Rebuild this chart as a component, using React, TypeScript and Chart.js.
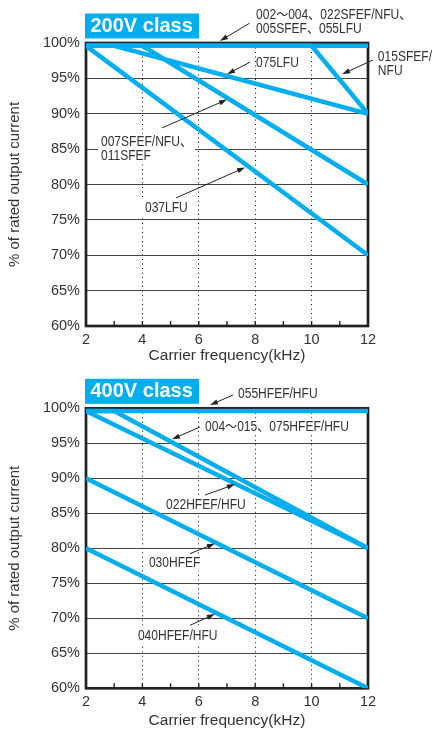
import React, { useEffect, useRef } from "react";
import { Chart, registerables } from "chart.js";

Chart.register(...registerables);

// ---------- axes ----------
const X_TICKS = [2, 4, 6, 8, 10, 12];
const Y_TICKS = [60, 65, 70, 75, 80, 85, 90, 95, 100];

// ---------- 200V class (kHz / % of rated output current) ----------
const khz200_002 = [2, 12];
const pct200_002 = [99.6, 99.6];
const khz200_015 = [2, 10, 12];
const pct200_015 = [99.6, 99.6, 90];
const khz200_075 = [2, 3, 12];
const pct200_075 = [99.6, 99.6, 90];
const khz200_007 = [2, 4, 12];
const pct200_007 = [99.6, 99.6, 80];
const khz200_037 = [2, 12];
const pct200_037 = [99.6, 70];

// ---------- 400V class ----------
const khz400_055 = [2, 12];
const pct400_055 = [99.6, 99.6];
const khz400_004 = [2, 3, 12];
const pct400_004 = [99.6, 99.6, 80];
const khz400_022 = [2, 12];
const pct400_022 = [99.6, 80];
const khz400_030 = [2, 12];
const pct400_030 = [90, 70];
const khz400_040 = [2, 12];
const pct400_040 = [80, 60];

const BLUE = "#00AEEF";
const FAMILY = '"Liberation Sans", Arial, Helvetica, sans-serif';
const NOTE_FONT = '14px "Liberation Sans", "Noto Sans CJK JP", sans-serif';

type Series = { kHz: number[]; pct: number[] };
type Note = {
  lines: string[];
  k: number;
  p: number;
  from: [number, number];
  to: [number, number];
  bg?: boolean;
};

const series200: Series[] = [
  { kHz: khz200_002, pct: pct200_002 },
  { kHz: khz200_015, pct: pct200_015 },
  { kHz: khz200_075, pct: pct200_075 },
  { kHz: khz200_007, pct: pct200_007 },
  { kHz: khz200_037, pct: pct200_037 },
];
const series400: Series[] = [
  { kHz: khz400_055, pct: pct400_055 },
  { kHz: khz400_004, pct: pct400_004 },
  { kHz: khz400_022, pct: pct400_022 },
  { kHz: khz400_030, pct: pct400_030 },
  { kHz: khz400_040, pct: pct400_040 },
];

const notes200: Note[] = [
  { lines: ["002～004、022SFEF/NFU、", "005SFEF、055LFU"], k: 8.03, p: 104.0, from: [7.8, 102.8], to: [6.75, 100.3] },
  { lines: ["075LFU"], k: 8.03, p: 97.1, from: [7.82, 97.3], to: [7.0, 95.6] },
  { lines: ["015SFEF/", "NFU"], k: 12.35, p: 98.06, from: [12.18, 97.6], to: [11.08, 95.6] },
  { lines: ["007SFEF/NFU、", "011SFEF"], k: 2.53, p: 86.05, from: [4.7, 88.0], to: [7.0, 92.0], bg: true },
  { lines: ["037LFU"], k: 4.09, p: 76.7, from: [5.19, 78.1], to: [7.64, 82.4], bg: true },
];
const notes400: Note[] = [
  { lines: ["055HFEF/HFU"], k: 7.39, p: 102.04, from: [7.21, 101.9], to: [6.4, 100.47] },
  { lines: ["004～015、075HFEF/HFU"], k: 6.22, p: 97.37, from: [6.04, 97.33], to: [5.05, 95.57], bg: true },
  { lines: ["022HFEF/HFU"], k: 4.84, p: 86.19, from: [6.22, 87.6], to: [7.28, 89.14], bg: true },
  { lines: ["030HFEF"], k: 4.23, p: 77.94, from: [5.69, 79.24], to: [6.57, 80.67], bg: true },
  { lines: ["040HFEF/HFU"], k: 3.84, p: 67.4, from: [5.69, 69.0], to: [6.57, 70.6], bg: true },
];

const SX = 0.86; // horizontal condensation of annotation font
const LINE_GAP = 14.5;

function makeDecor(title: string, notes: Note[]) {
  return {
    id: "decor",
    beforeDatasetsDraw(chart: any) {
      const { ctx, chartArea } = chart;
      const xs = chart.scales.x;
      const ys = chart.scales.y;
      ctx.save();
      // label white backgrounds
      ctx.font = NOTE_FONT;
      ctx.fillStyle = "#ffffff";
      notes.forEach((n) => {
        if (!n.bg) return;
        const px = xs.getPixelForValue(n.k);
        const py = ys.getPixelForValue(n.p);
        const w = Math.max(...n.lines.map((l) => ctx.measureText(l).width)) * SX;
        ctx.fillRect(px - 3, py - 8, w + 6, LINE_GAP * (n.lines.length - 1) + 16);
      });
      // minor ticks on bottom axis, pointing inward
      ctx.strokeStyle = "#222";
      ctx.lineWidth = 1.4;
      for (let k = 3; k <= 11; k++) {
        const x = xs.getPixelForValue(k);
        ctx.beginPath();
        ctx.moveTo(x, chartArea.bottom);
        ctx.lineTo(x, chartArea.bottom - 5);
        ctx.stroke();
      }
      // frame
      ctx.strokeStyle = "#222";
      ctx.lineWidth = 2.7;
      ctx.strokeRect(chartArea.left, chartArea.top, chartArea.right - chartArea.left, chartArea.bottom - chartArea.top);
      ctx.restore();
    },
    afterDatasetsDraw(chart: any) {
      const { ctx, chartArea } = chart;
      const xs = chart.scales.x;
      const ys = chart.scales.y;
      ctx.save();
      // title box
      const bx = chartArea.left - 1;
      const by = chartArea.top - 29.5;
      ctx.fillStyle = BLUE;
      ctx.fillRect(bx, by, 114, 25);
      ctx.fillStyle = "#ffffff";
      ctx.font = `bold 20px ${FAMILY}`;
      ctx.textBaseline = "middle";
      ctx.textAlign = "left";
      ctx.fillText(title, bx + 5.5, by + 13);
      // notes
      ctx.font = NOTE_FONT;
      ctx.fillStyle = "#333";
      notes.forEach((n) => {
        const px = xs.getPixelForValue(n.k);
        const py = ys.getPixelForValue(n.p);
        n.lines.forEach((l, i) => {
          ctx.save();
          ctx.translate(px, py + i * LINE_GAP);
          ctx.scale(SX, 1);
          ctx.fillText(l, 0, 0);
          ctx.restore();
        });
        const x1 = xs.getPixelForValue(n.from[0]);
        const y1 = ys.getPixelForValue(n.from[1]);
        const x2 = xs.getPixelForValue(n.to[0]);
        const y2 = ys.getPixelForValue(n.to[1]);
        const ang = Math.atan2(y2 - y1, x2 - x1);
        const L = 8;
        const H = 2.6;
        ctx.strokeStyle = "#222";
        ctx.lineWidth = 1;
        ctx.beginPath();
        ctx.moveTo(x1, y1);
        ctx.lineTo(x2 - Math.cos(ang) * L * 0.8, y2 - Math.sin(ang) * L * 0.8);
        ctx.stroke();
        ctx.fillStyle = "#222";
        ctx.beginPath();
        ctx.moveTo(x2, y2);
        ctx.lineTo(x2 - Math.cos(ang) * L - Math.sin(ang) * H, y2 - Math.sin(ang) * L + Math.cos(ang) * H);
        ctx.lineTo(x2 - Math.cos(ang) * L + Math.sin(ang) * H, y2 - Math.sin(ang) * L - Math.cos(ang) * H);
        ctx.closePath();
        ctx.fill();
        ctx.fillStyle = "#333";
      });
      ctx.restore();
    },
  };
}

function makeConfig(series: Series[], notes: Note[], title: string, padTop: number, xHeight: number): any {
  return {
    type: "line",
    data: {
      datasets: series.map((s) => ({
        data: s.kHz.map((k, i) => ({ x: k, y: s.pct[i] })),
        borderColor: BLUE,
        backgroundColor: BLUE,
        borderWidth: 4.5,
        pointRadius: 0,
        tension: 0,
        fill: false,
        borderJoinStyle: "miter",
      })),
    },
    options: {
      responsive: false,
      animation: false,
      events: [],
      layout: { padding: { left: 0, right: 71, top: padTop, bottom: 0 } },
      plugins: { legend: { display: false }, tooltip: { enabled: false }, title: { display: false } },
      scales: {
        x: {
          type: "linear",
          min: 2,
          max: 12,
          afterBuildTicks: (s: any) => {
            s.ticks = X_TICKS.map((v) => ({ value: v }));
          },
          afterFit: (s: any) => {
            s.height = xHeight;
          },
          grid: {
            drawTicks: false,
            lineWidth: 1,
            color: (c: any) => (c.tick && (c.tick.value === 2 || c.tick.value === 12) ? "rgba(0,0,0,0)" : "#111"),
          },
          border: { display: false, dash: [1, 3.5] },
          ticks: { padding: 5, color: "#333", font: { family: FAMILY, size: 14.5 }, maxRotation: 0, autoSkip: false },
          title: {
            display: true,
            text: "Carrier frequency(kHz)",
            color: "#333",
            font: { family: FAMILY, size: 15.5 },
            padding: { top: 0, bottom: 0 },
          },
        },
        y: {
          type: "linear",
          min: 60,
          max: 100,
          afterBuildTicks: (s: any) => {
            s.ticks = Y_TICKS.map((v) => ({ value: v }));
          },
          afterFit: (s: any) => {
            s.width = 86;
          },
          grid: {
            drawTicks: false,
            lineWidth: 1.1,
            color: (c: any) => (c.tick && (c.tick.value === 60 || c.tick.value === 100) ? "rgba(0,0,0,0)" : "#444"),
          },
          border: { display: false },
          ticks: {
            padding: 6,
            color: "#333",
            font: { family: FAMILY, size: 14.5 },
            callback: (v: any) => `${v}%`,
            autoSkip: false,
          },
          title: {
            display: true,
            text: "% of rated output current",
            color: "#333",
            font: { family: FAMILY, size: 15 },
            padding: { top: 6, bottom: 0 },
          },
        },
      },
    },
    plugins: [makeDecor(title, notes)],
  };
}

function DeratingChart(props: { series: Series[]; notes: Note[]; title: string; padTop: number; xHeight: number }) {
  const ref = useRef<HTMLCanvasElement | null>(null);
  useEffect(() => {
    if (!ref.current) return;
    const chart = new Chart(ref.current, makeConfig(props.series, props.notes, props.title, props.padTop, props.xHeight));
    return () => chart.destroy();
  }, []);
  return <canvas ref={ref} width={439} height={365} style={{ display: "block", width: 439, height: 365 }} />;
}

export default function App() {
  return (
    <div style={{ position: "absolute", left: 0, top: 0, width: 439, height: 730, background: "#fff" }}>
      <DeratingChart series={series200} notes={notes200} title="200V class" padTop={43} xHeight={39} />
      <DeratingChart series={series400} notes={notes400} title="400V class" padTop={43.3} xHeight={41.7} />
    </div>
  );
}
